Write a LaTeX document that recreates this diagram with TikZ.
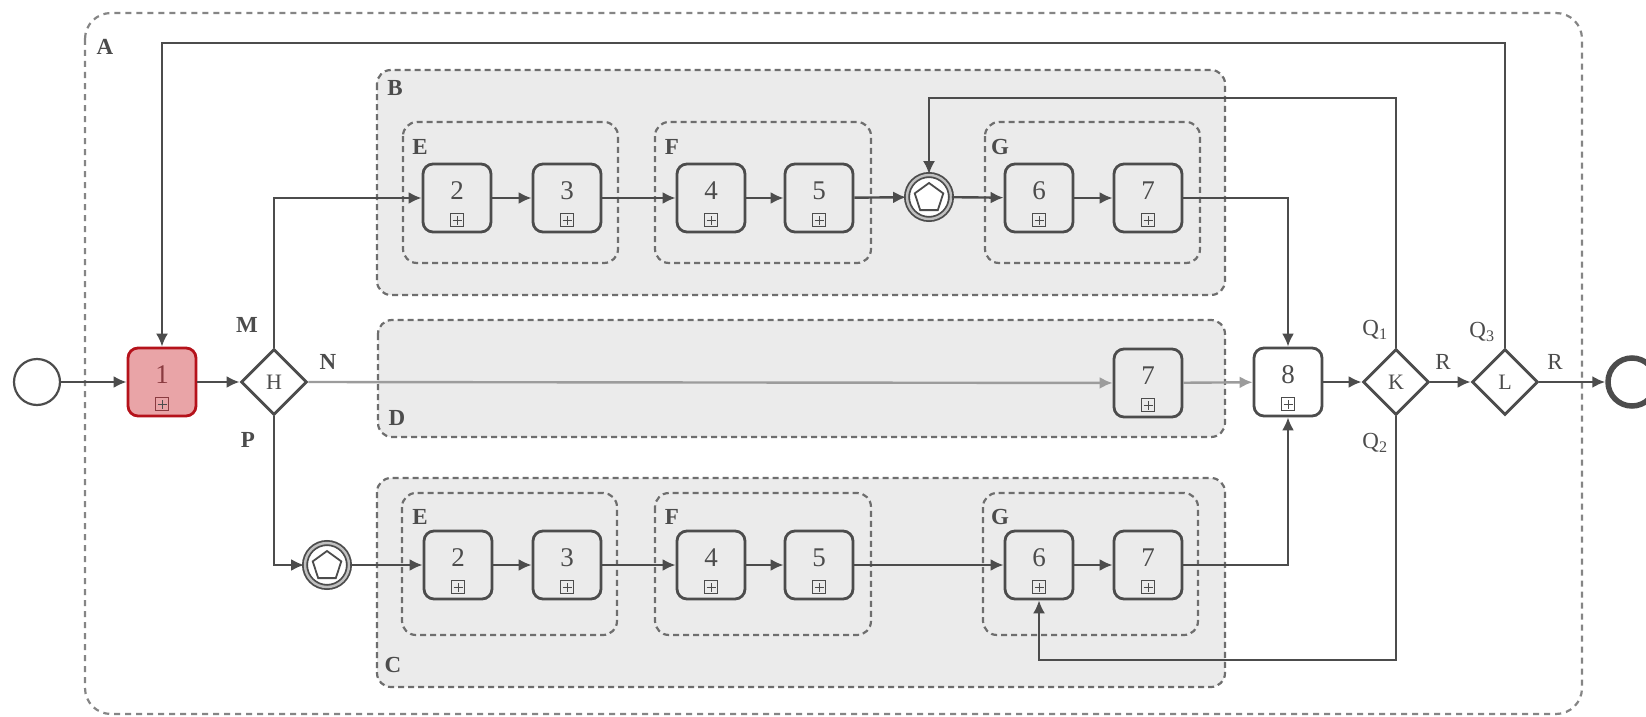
\documentclass[tikz,border=0pt]{standalone}
\usepackage{fontspec}
\setmainfont{Liberation Serif}
\usetikzlibrary{shapes.geometric,arrows.meta,calc}
\definecolor{ln}{HTML}{4C4C4C}
\definecolor{gfill}{HTML}{EBEBEB}
\definecolor{gdash}{HTML}{6E6E6E}
\definecolor{adash}{HTML}{858585}
\definecolor{pinkf}{HTML}{E9A4A7}
\definecolor{redb}{HTML}{B5121B}
\definecolor{redt}{HTML}{8A3B40}
\definecolor{nline}{HTML}{9C9C9C}
\begin{document}
\begin{tikzpicture}[x=1pt,y=-1pt,
  every node/.style={text=ln},
  lbl/.style={font=\fontsize{23}{26}\selectfont, inner sep=0},
  glbl/.style={font=\fontsize{23}{26}\selectfont\bfseries, inner sep=0},
  num/.style={font=\fontsize{27}{29}\selectfont, inner sep=0},
  task/.style={rectangle, rounded corners=10pt, minimum width=68pt, minimum height=68pt,
    draw=ln, line width=2.8pt, fill=gfill, inner sep=0},
  subm/.style={rectangle, draw=ln, line width=1.3pt, minimum size=13pt, inner sep=0,
    path picture={\draw[ln, line width=1pt]
      ([yshift=-4.5pt]path picture bounding box.center) -- ([yshift=4.5pt]path picture bounding box.center)
      ([xshift=-4.5pt]path picture bounding box.center) -- ([xshift=4.5pt]path picture bounding box.center);}},
  gate/.style={diamond, aspect=1, draw=ln, line width=2.8pt, fill=white,
    minimum width=66pt, minimum height=66pt, inner sep=0, font=\fontsize{22}{24}\selectfont},
  ring/.style={circle, draw=ln, line width=1.8pt, double=gfill!60!gray, double distance=2.4pt,
    minimum size=44pt, fill=white, inner sep=0},
  penta/.style={regular polygon, regular polygon sides=5, draw=ln, line width=1.8pt,
    minimum size=30pt, inner sep=0},
  grp/.style={draw=gdash, line width=2.2pt, dash pattern=on 6pt off 4pt, rounded corners=14pt},
  flow/.style={draw=ln, line width=2.4pt, -{Latex[length=13pt,width=12pt]}},
  loopline/.style={draw=ln, line width=2.2pt, -{Latex[length=13pt,width=12pt]}},
]
\useasboundingbox (0,0) rectangle (1646,717);
\fill[white] (0,0) rectangle (1646,717);

% outer pool A
\draw[draw=adash, line width=2.2pt, dash pattern=on 6pt off 5pt, rounded corners=26pt] (85,13) rectangle (1582,714);

% groups
\draw[grp, fill=gfill] (377,70) rectangle (1225,295);
\draw[grp, fill=gfill] (378,320) rectangle (1225,437);
\draw[grp, fill=gfill] (377,478) rectangle (1225,687);
\draw[grp] (403,122) rectangle (618,263);
\draw[grp] (655,122) rectangle (871,263);
\draw[grp] (985,122) rectangle (1200,263);
\draw[grp] (402,493) rectangle (617,635);
\draw[grp] (655,493) rectangle (871,635);
\draw[grp] (983,493) rectangle (1198,635);

% group labels
\node[glbl] (lA) at (105,47) {A};
\node[glbl] (lB) at (395,88) {B};
\node[glbl] (lE1) at (420,147) {E};
\node[glbl] (lF1) at (672,147) {F};
\node[glbl] (lG1) at (1000,147) {G};
\node[glbl] (lD) at (397,418) {D};
\node[glbl] (lC) at (393,665) {C};
\node[glbl] (lE2) at (420,517) {E};
\node[glbl] (lF2) at (672,517) {F};
\node[glbl] (lG2) at (1000,517) {G};

% events
\node[circle, draw=ln, line width=2.2pt, fill=white, minimum size=46pt, inner sep=0] (start) at (37,382) {};
\node[circle, draw=ln, line width=5.5pt, fill=white, minimum size=48pt, inner sep=0] (end) at (1632,382) {};
\node[ring] (pb) at (929,197) {};
\node[penta] (pbp) at (929,198) {};
\node[ring] (pc) at (327,565) {};
\node[penta] (pcp) at (327,566) {};

% task 1
\node[task, fill=pinkf, draw=redb] (t1) at (162,382) {};
\node[num, text=redt] (n1) at ([yshift=7pt]t1.center) {1};
\node[subm, draw=redt] (s1) at ([yshift=-22pt]t1.center) {};

% gateways
\node[gate] (H) at (274,382) {H};
\node[gate] (K) at (1396,382) {K};
\node[gate] (L) at (1505,382) {L};

% tasks
\foreach \nm/\x/\y/\t in {b2/457/198/2, b3/567/198/3, b4/711/198/4, b5/819/198/5, b6/1039/198/6, b7/1148/198/7,
                        d7/1148/383/7,
                        c2/458/565/2, c3/567/565/3, c4/711/565/4, c5/819/565/5, c6/1039/565/6, c7/1148/565/7}{
  \node[task] (\nm) at (\x,\y) {};
  \node[num] (\nm n) at ([yshift=7pt]\nm.center) {\t};
  \node[subm] (\nm s) at ([yshift=-22pt]\nm.center) {};
}
\node[task, fill=white] (t8) at (1288,382) {};
\node[num] (t8n) at ([yshift=7pt]t8.center) {8};
\node[subm] (t8s) at ([yshift=-22pt]t8.center) {};

% flow labels
\node[glbl] (lM) at (247,325) {M};
\node[glbl] (lN) at (328,362) {N};
\node[glbl] (lP) at (248,440) {P};
\node[lbl] (lQ1) at (1375,330) {Q\textsubscript{1}};
\node[lbl] (lQ2) at (1375,443) {Q\textsubscript{2}};
\node[lbl] (lQ3) at (1482,332) {Q\textsubscript{3}};
\node[lbl] (lR1) at (1443,362) {R};
\node[lbl] (lR2) at (1555,362) {R};

% loop coordinates
\coordinate (kq1) at (1396,98);
\coordinate (kq2) at (1396,660);
\coordinate (lq3) at (1505,43);

% connectors
\draw[flow] (start) -- (t1);
\draw[flow] (t1) -- (H);
\draw[flow] (H.north) |- (b2);
\draw[flow] (H.south) |- (pc);
\draw[flow, draw=nline] (H.east) -- (d7);
\draw[flow] (b2) -- (b3);
\draw[flow] (b3) -- (b4);
\draw[flow] (b4) -- (b5);
\draw[flow] (b5) -- (pb);
\draw[flow] (pb) -- (b6);
\draw[flow] (b6) -- (b7);
\draw[flow] (pc) -- (c2);
\draw[flow] (c2) -- (c3);
\draw[flow] (c3) -- (c4);
\draw[flow] (c4) -- (c5);
\draw[flow] (c5) -- (c6);
\draw[flow] (c6) -- (c7);
\draw[flow] (b7.east) -| (t8.north);
\draw[flow] (c7.east) -| (t8.south);
\draw[flow, draw=nline] (d7) -- (t8);
\draw[flow] (t8) -- (K);
\draw[flow] (K) -- (L);
\draw[flow] (L) -- (end);
\draw[loopline] (K.north) -- (kq1) -| (pb.north);
\draw[loopline] (K.south) -- (kq2) -| (c6.south);
\draw[loopline] (L.north) -- (lq3) -| (t1.north);
\end{tikzpicture}
\end{document}
